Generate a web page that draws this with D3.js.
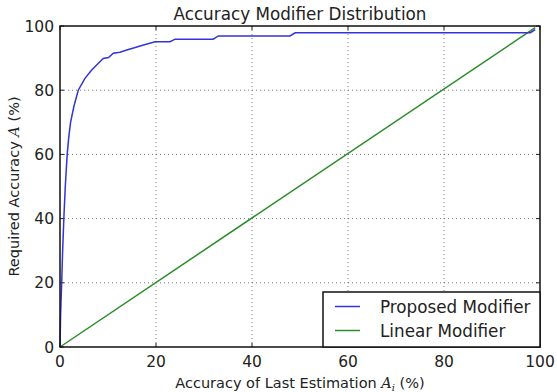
<!DOCTYPE html>
<html>
<head>
<meta charset="utf-8">
<script src="https://cdn.jsdelivr.net/npm/d3@7"></script>
<style>
  body { margin: 0; background: #fff; }
  text { font-family: "DejaVu Sans", sans-serif; fill: #222; }
</style>
</head>
<body>
<svg id="chart"></svg>
<script>
// Proposed modifier: [accuracy of last estimation, required accuracy]
const proposedX = [0, 0.12, 0.35, 0.55, 0.8, 1.1, 1.5, 1.8, 2.2, 2.9, 3.8, 5.2, 6.6, 8.0, 9.0, 10.1, 11.1, 12.5, 13.9, 15.5, 17.4, 19.8, 22.9, 24.0, 31.9, 33.0, 47.9, 49.0, 98.0, 99.0];
const proposedY = [0, 10, 20, 30, 40, 50, 60, 65, 70, 75, 80, 83.7, 86.3, 88.4, 89.9, 90.2, 91.5, 91.8, 92.5, 93.2, 94.1, 95.1, 95.1, 95.9, 95.9, 96.9, 96.9, 97.9, 97.9, 98.9];
// Linear modifier
const linearX = [0, 99];
const linearY = [0, 99.5];
const ticks = [0, 20, 40, 60, 80, 100];
const gridTicks = [20, 40, 60, 80];
const seriesNames = ["Proposed Modifier", "Linear Modifier"];
const seriesColors = ["#3434d4", "#2a8c2a"];

const W = 557, H = 392;
const margin = { top: 26, right: 17, bottom: 45, left: 60 };
const width = W - margin.left - margin.right;
const height = H - margin.top - margin.bottom;

const svg = d3.select("#chart").attr("width", W).attr("height", H);
const g = svg.append("g").attr("transform", `translate(${margin.left},${margin.top})`);

const x = d3.scaleLinear().domain([0, 100]).range([0, width]);
const y = d3.scaleLinear().domain([0, 100]).range([height, 0]);

// grid
g.selectAll(".gx").data(gridTicks).enter().append("line")
  .attr("x1", d => x(d)).attr("x2", d => x(d))
  .attr("y1", 0).attr("y2", height)
  .attr("stroke", "#777").attr("stroke-width", 1).attr("stroke-dasharray", "1,3");
g.selectAll(".gy").data(gridTicks).enter().append("line")
  .attr("y1", d => y(d)).attr("y2", d => y(d))
  .attr("x1", 0).attr("x2", width)
  .attr("stroke", "#777").attr("stroke-width", 1).attr("stroke-dasharray", "1,3");

// inner ticks on all four sides
const tickLen = 4;
ticks.forEach(t => {
  g.append("line").attr("x1", x(t)).attr("x2", x(t)).attr("y1", height).attr("y2", height - tickLen).attr("stroke", "#222");
  g.append("line").attr("x1", x(t)).attr("x2", x(t)).attr("y1", 0).attr("y2", tickLen).attr("stroke", "#222");
  g.append("line").attr("y1", y(t)).attr("y2", y(t)).attr("x1", 0).attr("x2", tickLen).attr("stroke", "#222");
  g.append("line").attr("y1", y(t)).attr("y2", y(t)).attr("x1", width).attr("x2", width - tickLen).attr("stroke", "#222");
});

// tick labels
g.selectAll(".xl").data(ticks).enter().append("text")
  .attr("x", d => x(d)).attr("y", height + 20)
  .attr("text-anchor", "middle").attr("font-size", 15.5)
  .text(d => d);
g.selectAll(".yl").data(ticks).enter().append("text")
  .attr("x", -6).attr("y", d => y(d) + 5.5)
  .attr("text-anchor", "end").attr("font-size", 15.5)
  .text(d => d);

// lines
const line = d3.line().x(d => x(d[0])).y(d => y(d[1]));
g.append("path")
  .datum(linearX.map((v, i) => [v, linearY[i]]))
  .attr("fill", "none").attr("stroke", seriesColors[1]).attr("stroke-width", 1.5)
  .attr("d", line);
g.append("path")
  .datum(proposedX.map((v, i) => [v, proposedY[i]]))
  .attr("fill", "none").attr("stroke", seriesColors[0]).attr("stroke-width", 1.5)
  .attr("d", line);

// frame
g.append("rect").attr("width", width).attr("height", height)
  .attr("fill", "none").attr("stroke", "#111").attr("stroke-width", 1.5);

// legend
const lg = g.append("g").attr("transform", `translate(${width - 217},${height - 55})`);
lg.append("rect").attr("width", 217).attr("height", 55)
  .attr("fill", "#fff").attr("stroke", "#111").attr("stroke-width", 1.5);
seriesNames.forEach((name, i) => {
  const yy = 14.5 + i * 24;
  lg.append("line").attr("x1", 12).attr("x2", 37).attr("y1", yy).attr("y2", yy)
    .attr("stroke", seriesColors[i]).attr("stroke-width", 1.5);
  lg.append("text").attr("x", 57).attr("y", yy + 6)
    .attr("font-size", 16.8).text(name);
});

// title
svg.append("text").attr("x", margin.left + width / 2).attr("y", 20)
  .attr("text-anchor", "middle").attr("font-size", 16.8)
  .text("Accuracy Modifier Distribution");

// axis labels
const xlab = svg.append("text").attr("x", margin.left + width / 2).attr("y", H - 4)
  .attr("text-anchor", "middle").attr("font-size", 14.5);
xlab.append("tspan").text("Accuracy of Last Estimation ");
xlab.append("tspan").attr("font-style", "italic").attr("font-family", "DejaVu Serif").text("A");
xlab.append("tspan").attr("font-size", 10).attr("dy", 3).attr("font-style", "italic").attr("font-family", "DejaVu Serif").text("i");
xlab.append("tspan").attr("dy", -3).text(" (%)");

const ylab = svg.append("text")
  .attr("transform", `translate(19,${margin.top + height / 2}) rotate(-90)`)
  .attr("text-anchor", "middle").attr("font-size", 14.5);
ylab.append("tspan").text("Required Accuracy ");
ylab.append("tspan").attr("font-style", "italic").attr("font-family", "DejaVu Serif").text("A");
ylab.append("tspan").text(" (%)");
</script>
</body>
</html>
